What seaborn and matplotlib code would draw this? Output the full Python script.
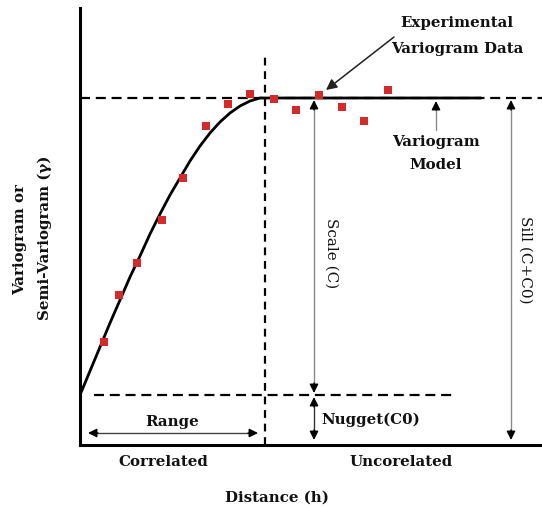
import matplotlib
matplotlib.use("Agg")
import matplotlib.pyplot as plt
import seaborn as sns
import pandas as pd

# ---- data (distance, semivariance in chart units) ----
lag_distance = [24, 39, 57, 82, 103, 126, 148, 170, 194, 216, 239, 262, 284, 308]
semivariance = [103, 150, 182, 225, 267, 319, 341, 351, 346, 335, 350, 338, 324, 355]
model_distance = [0, 10, 20, 30, 40, 50, 60, 70, 80, 90, 100, 110, 120, 130,
                  140, 150, 160, 170, 180, 185, 401]
model_gamma = [50, 74, 98, 122, 145, 168, 189, 211, 231, 250, 267, 284, 299, 312,
               323, 332, 339, 344, 347, 347, 347]
nugget = 50
sill = 347
range_a = 185

pts = pd.DataFrame({"h": lag_distance, "gamma": semivariance})
model = pd.DataFrame({"h": model_distance, "gamma": model_gamma})

sns.set_theme(style="white")
plt.rcParams['font.family'] = ['DejaVu Serif', 'DejaVu Sans']

W, H = 542, 508
fig = plt.figure(figsize=(W / 100, H / 100), dpi=100)
ax = fig.add_axes([80 / W, 63 / H, 462 / W, 437 / H])
ax.set_xlim(0, 462)
ax.set_ylim(0, 437)


def D(px, py):
    return (px - 80, 445 - py)


for s in ["top", "right"]:
    ax.spines[s].set_visible(False)
for s in ["left", "bottom"]:
    ax.spines[s].set_color("black")
    ax.spines[s].set_linewidth(2.2)
ax.set_xticks([])
ax.set_yticks([])

dash = (0, (4.5, 2.6))
# sill and nugget reference lines
ax.axhline(sill, color="black", lw=1.6, ls=dash, zorder=1)
ax.plot([14, 372], [nugget, nugget], color="black", lw=1.6, ls=dash, zorder=1)
# range line
ax.plot([range_a, range_a], [0, 393], color="black", lw=1.6, ls=(0, (3.5, 2.6)), zorder=1)

# model
sns.lineplot(data=model, x="h", y="gamma", ax=ax, color="black", lw=2.0,
             sort=False, estimator=None, zorder=3)
# experimental points
sns.scatterplot(data=pts, x="h", y="gamma", ax=ax, marker="s", color="#d42a2a",
                s=28, linewidth=0, zorder=4)
ax.set_xlabel("")
ax.set_ylabel("")

bold = dict(fontsize=10.8, fontweight="bold", ha="center", va="center", color="#111")
reg = dict(fontsize=11, ha="center", va="center", color="#111")


def head(tip, tail, color="black"):
    ax.annotate("", xy=D(*tip), xytext=D(*tail),
                arrowprops=dict(arrowstyle="-|>", color=color, lw=1.0,
                                mutation_scale=13, shrinkA=0, shrinkB=0))


def shaft(p0, p1, color="#8a8a8a", lw=1.0):
    a, b = D(*p0), D(*p1)
    ax.plot([a[0], b[0]], [a[1], b[1]], color=color, lw=lw, zorder=2,
            clip_on=False)


# Experimental variogram data arrow
ax.annotate("", xy=D(326, 90), xytext=D(394, 37),
            arrowprops=dict(arrowstyle="-|>", color="#222", lw=1.1,
                            mutation_scale=16, shrinkA=0, shrinkB=0))
ax.text(*D(457, 23), "Experimental", **bold)
ax.text(*D(457, 49), "Variogram Data", **bold)

# variogram model arrow
shaft((436, 130), (436, 108))
head((436, 101), (436, 110))
ax.text(*D(436, 142), "Variogram", **bold)
ax.text(*D(436, 165), "Model", **bold)

# scale arrow
shaft((314, 108), (314, 384))
head((314, 100), (314, 110))
head((314, 393), (314, 383))
ax.text(*D(331, 253), "Scale (C)", rotation=270, **reg)

# sill arrow
shaft((511, 108), (511, 432))
head((511, 100), (511, 110))
head((511, 440), (511, 430))
ax.text(*D(525, 260), "Sill (C+C0)", rotation=270, **reg)

# nugget arrow
shaft((314, 404), (314, 432), color="#333")
head((314, 397), (314, 407))
head((314, 440), (314, 430))
ax.text(*D(371, 420), "Nugget(C0)", **bold)

# range arrow
shaft((96, 433), (250, 433), color="#444")
head((88, 433), (98, 433))
head((258, 433), (248, 433))
ax.text(*D(172, 422), "Range", **bold)

# bottom labels
ax.text(*D(163, 462), "Correlated", **bold)
ax.text(*D(401, 462), "Uncorelated", **bold)
ax.text(*D(277, 498), "Distance (h)", **bold)

# y labels
ax.text(*D(20, 240), "Variogram or", rotation=90, **bold)
ax.text(*D(45, 238), "Semi-Variogram (\u03b3)", rotation=90, **bold)

fig.savefig("out.png", dpi=100)
